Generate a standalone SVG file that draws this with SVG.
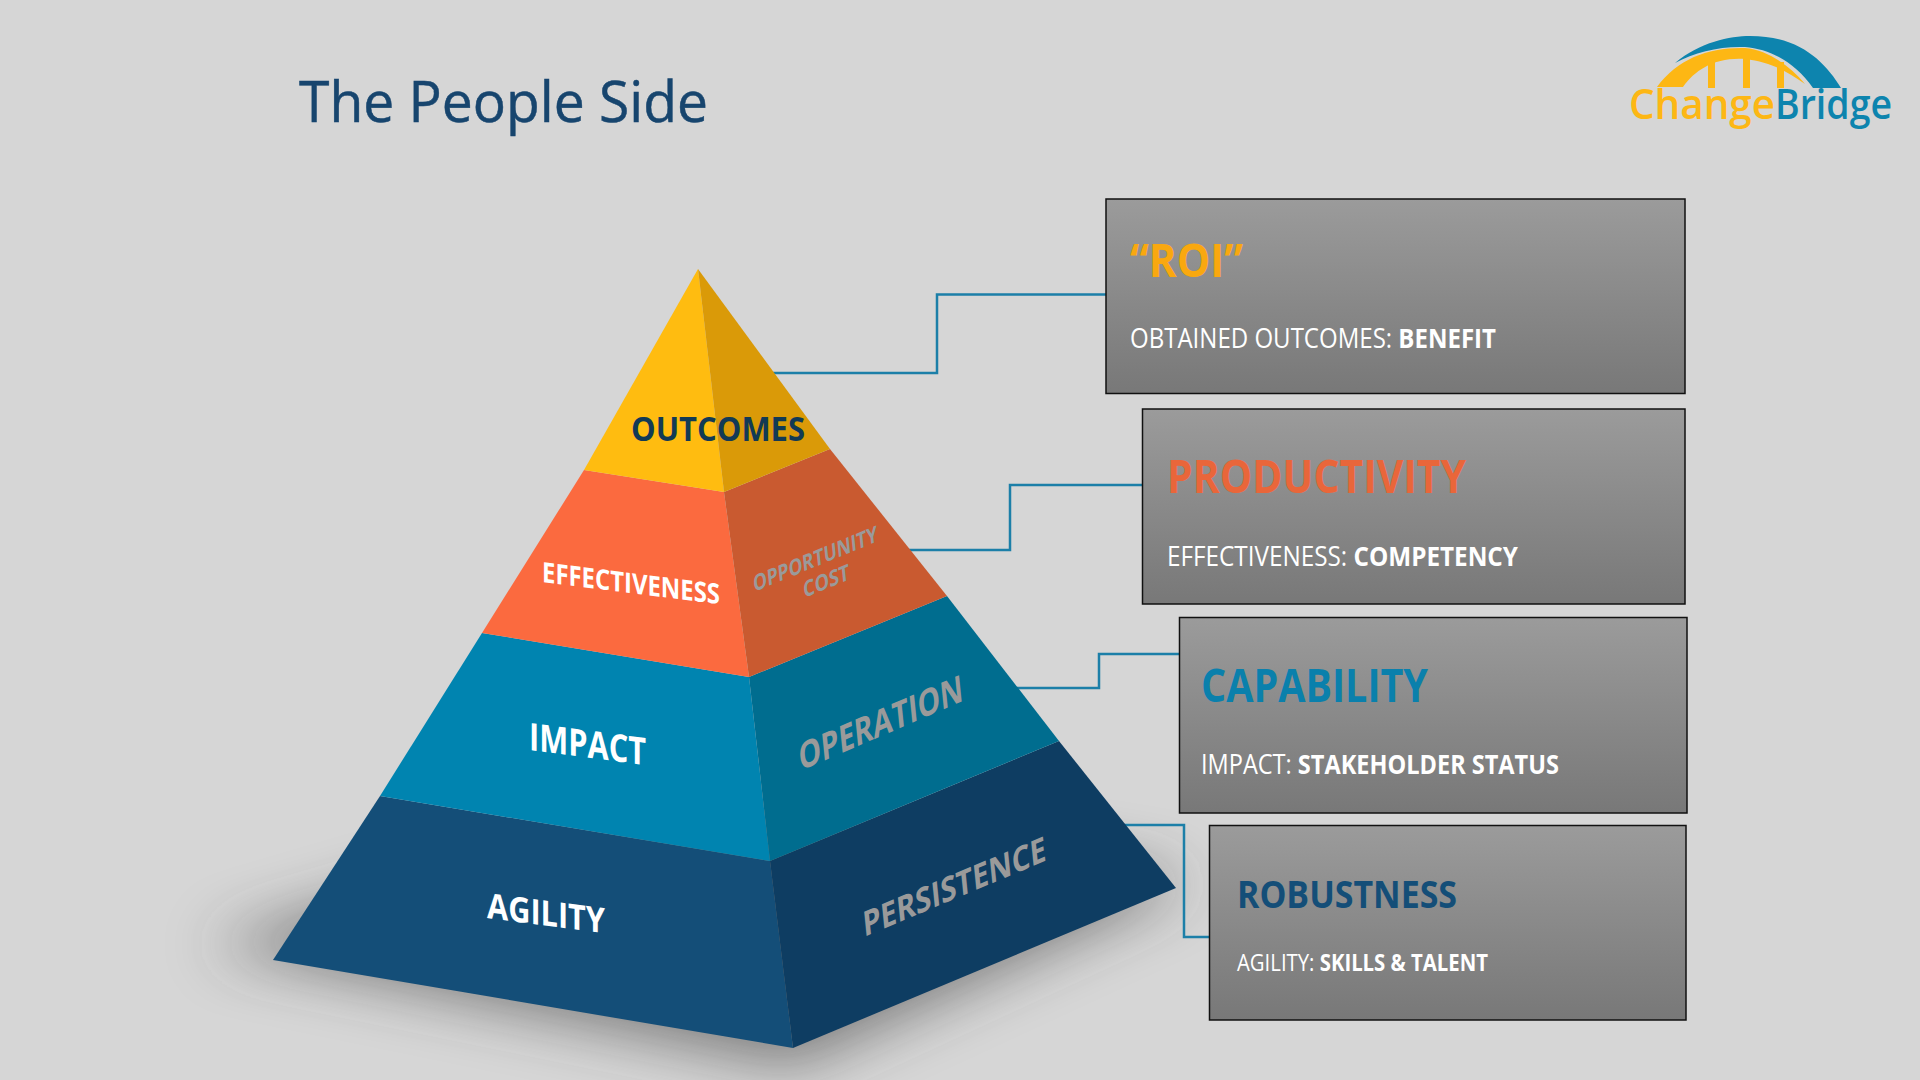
<svg xmlns="http://www.w3.org/2000/svg" width="1920" height="1080" viewBox="0 0 1920 1080">
<style>
.f{font-family:"Open Sans","Noto Sans","Liberation Sans",sans-serif}
.head{font-size:46px;font-weight:700}
.sub{font-size:27px;fill:#fff}
.sub .b{font-weight:700}
.lab{font-weight:700;fill:#fff}
.side{font-weight:700;fill:#9a9a9a}
.box{fill:url(#boxg);stroke:#111;stroke-width:1.5}
.conn{fill:none;stroke:#1c7fa8;stroke-width:2.5}
</style>
<defs>
<linearGradient id="boxg" x1="0" y1="0" x2="0" y2="1"><stop offset="0" stop-color="#9b9b9b"/><stop offset="1" stop-color="#787878"/></linearGradient>
<filter id="blur" x="-30%" y="-30%" width="160%" height="160%"><feGaussianBlur stdDeviation="30"/></filter>
</defs>
<rect width="1920" height="1080" fill="#d6d6d6"/>
<text id="title" class="f" x="299" y="122" font-size="56" fill="#17456e" stroke="#17456e" stroke-width=".5" textLength="409" lengthAdjust="spacingAndGlyphs">The People Side</text>
<g id="logo">
<path d="M1675 63C1700 42 1730 36 1750 36C1800 36 1825 62 1841 88L1813 88C1795 62 1770 49 1745 47C1720 46 1695 52 1675 63Z" fill="#0d84ae"/>
<path d="M1657 87C1678 58 1710 47 1745 48C1768 50 1790 66 1805 84C1785 70 1770 62 1745 59C1715 57 1695 70 1683 87Z" fill="#fdb714"/>
<rect x="1708" y="62" width="7" height="26" fill="#fdb714"/><rect x="1743" y="58" width="7" height="30" fill="#fdb714"/><rect x="1777" y="62" width="7" height="26" fill="#fdb714"/>
<text class="f" x="1629" y="119" font-size="42" font-weight="600" fill="#fdb714" textLength="146" lengthAdjust="spacingAndGlyphs">Change</text>
<text class="f" x="1775" y="119" font-size="42" font-weight="600" fill="#0d84ae" textLength="117" lengthAdjust="spacingAndGlyphs">Bridge</text>
</g>
<polygon points="205,945 793,1066 1195,880 700,800" fill="#333" opacity=".55" filter="url(#blur)"/>
<g id="connectors">
<polyline class="conn" points="770,373 937,373 937,294.500 1106,294.500"/>
<polyline class="conn" points="905,550 1010,550 1010,485 1142,485"/>
<polyline class="conn" points="1015,688 1099,688 1099,654 1179,654"/>
<polyline class="conn" points="1115,825 1184,825 1184,937 1209,937"/>
</g>
<g id="tier-agility">
<polygon points="380,796 770,861 793,1048 273,960" fill="#144e78"/>
<polygon points="770,861 1059,741 1176,888 793,1048" fill="#0e3d62"/>
<text class="f lab" font-size="35" transform="matrix(1,.13,0,1,487,918)" textLength="118" lengthAdjust="spacingAndGlyphs">AGILITY</text>
<text class="f side" font-size="34" transform="matrix(1,-.42,.1,1,864,937)" textLength="183" lengthAdjust="spacingAndGlyphs">PERSISTENCE</text>
</g>
<g id="tier-impact">
<polygon points="482,633 749,677 770,861 380,796" fill="#0084b0"/>
<polygon points="749,677 947,596 1059,741 770,861" fill="#006d8f"/>
<text class="f lab" font-size="38" transform="matrix(1,.13,0,1,529,750)" textLength="117" lengthAdjust="spacingAndGlyphs">IMPACT</text>
<text class="f side" font-size="37" transform="matrix(1,-.43,.1,1,800,771)" textLength="164" lengthAdjust="spacingAndGlyphs">OPERATION</text>
</g>
<g id="tier-effectiveness">
<polygon points="584,470 724,492 749,677 482,633" fill="#fb6a3f"/>
<polygon points="724,492 830,449 947,596 749,677" fill="#c95a30"/>
<text class="f lab" font-size="28" transform="matrix(1,.125,0,1,542,582)" textLength="178" lengthAdjust="spacingAndGlyphs">EFFECTIVENESS</text>
<text class="f side" font-size="22" transform="matrix(1,-.41,.1,1,754,592)" textLength="124" lengthAdjust="spacingAndGlyphs">OPPORTUNITY</text>
<text class="f side" font-size="22" transform="matrix(1,-.41,.1,1,804,598)" textLength="46" lengthAdjust="spacingAndGlyphs">COST</text>
</g>
<g id="tier-outcomes">
<polygon points="698,269 724,492 584,470" fill="#ffbc10"/>
<polygon points="698,269 830,449 724,492" fill="#da9a08"/>
<text class="f" x="631" y="441" font-size="34" font-weight="700" fill="#123a55" textLength="174" lengthAdjust="spacingAndGlyphs">OUTCOMES</text>
</g>
<g id="box-roi">
<rect class="box" x="1106" y="199" width="579" height="194.500"/>
<text class="f head" x="1130" y="277" fill="#f9a80f" textLength="113" lengthAdjust="spacingAndGlyphs">“ROI”</text>
<text class="f sub" x="1130" y="348" textLength="366" lengthAdjust="spacingAndGlyphs">OBTAINED OUTCOMES: <tspan class="b">BENEFIT</tspan></text>
</g>
<g id="box-productivity">
<rect class="box" x="1142.500" y="409" width="542.500" height="195"/>
<text class="f head" x="1167" y="493" fill="#e9663a" textLength="299" lengthAdjust="spacingAndGlyphs">PRODUCTIVITY</text>
<text class="f sub" x="1167" y="566" textLength="351" lengthAdjust="spacingAndGlyphs">EFFECTIVENESS: <tspan class="b">COMPETENCY</tspan></text>
</g>
<g id="box-capability">
<rect class="box" x="1179.500" y="617.500" width="507.500" height="195.500"/>
<text class="f head" x="1201" y="702" fill="#0a80ac" textLength="227" lengthAdjust="spacingAndGlyphs">CAPABILITY</text>
<text class="f sub" x="1201" y="774" textLength="358" lengthAdjust="spacingAndGlyphs">IMPACT: <tspan class="b">STAKEHOLDER STATUS</tspan></text>
</g>
<g id="box-robustness">
<rect class="box" x="1209.500" y="825.500" width="476.500" height="194.500"/>
<text class="f head" x="1237" y="908" fill="#144e78" style="font-size:38px" textLength="220" lengthAdjust="spacingAndGlyphs">ROBUSTNESS</text>
<text class="f sub" style="font-size:24px" x="1237" y="971" textLength="251" lengthAdjust="spacingAndGlyphs">AGILITY: <tspan class="b">SKILLS &amp; TALENT</tspan></text>
</g>
</svg>
